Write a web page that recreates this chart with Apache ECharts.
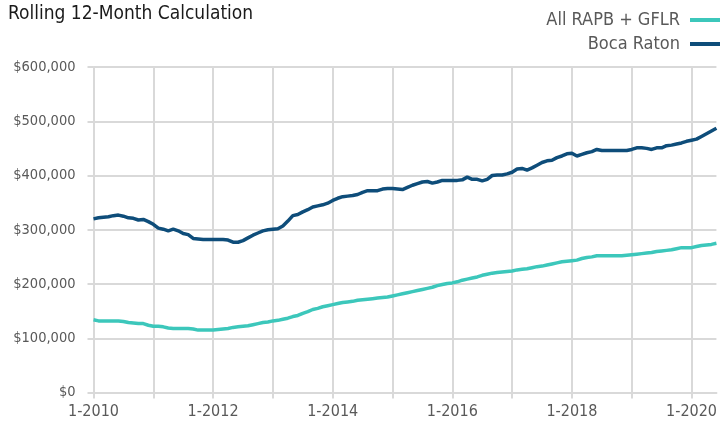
<!DOCTYPE html>
<html>
<head>
<meta charset="utf-8">
<script src="https://cdn.jsdelivr.net/npm/echarts@6/dist/echarts.min.js"></script>
<style>
html,body{margin:0;padding:0;background:#fff;}
#c{width:720px;height:427px;}
</style>
</head>
<body>
<div id="c"></div>
<script>
// Monthly values (in $ thousands), Jan 2010 .. Jun 2020
const startYear = 2010;
const bocaRaton = [
320,322,323,324,326,327,325,322,321,318,319,315,
310,303,301,298,301,298,293,291,284,283,282,282,
282,282,282,281,277,277,280,285,290,294,298,300,
301,302,307,316,326,328,333,337,342,344,346,349,
354,358,361,362,363,365,369,372,372,372,375,376,
376,375,374,378,382,385,388,389,386,388,391,391,
391,391,392,397,393,393,390,393,400,401,401,403,
406,412,413,410,414,419,424,427,428,433,436,440,
441,436,439,442,444,448,446,446,446,446,446,446,
448,451,451,450,448,451,451,455,456,458,460,463,
465,467,472,477,482,487
];
const allRapbGflr = [
134,132,132,132,132,132,131,129,128,127,127,124,
122,122,121,119,118,118,118,118,117,115,115,115,
115,116,117,118,120,121,122,123,125,127,129,130,
132,133,135,137,140,142,146,149,153,155,158,160,
162,164,166,167,168,170,171,172,173,174,175,176,
178,180,182,184,186,188,190,192,194,197,199,201,
202,204,207,209,211,213,216,218,220,221,222,223,
224,226,227,228,230,232,233,235,237,239,241,242,
243,244,247,249,250,252,252,252,252,252,252,253,
254,255,256,257,258,260,261,262,263,265,267,267,
267,269,271,272,273,275
];
const yTicks = [0,100000,200000,300000,400000,500000,600000];

const categories = bocaRaton.map((_, i) => {
  const m = (i % 12) + 1;
  const y = startYear + Math.floor(i / 12);
  return m + '-' + y;
});

const FONT = '"DejaVu Sans Condensed","Liberation Sans Narrow",sans-serif';
const GRID = '#d9d9d9';

const chart = echarts.init(document.getElementById('c'), null, {renderer: 'canvas'});
chart.setOption({
  animation: false,
  backgroundColor: '#fff',
  title: {
    text: 'Rolling 12-Month Calculation',
    left: 3, top: 0,
    textStyle: {fontFamily: FONT, fontSize: 19, fontWeight: 'normal', color: '#1a1a1a'}
  },
  legend: {
    orient: 'vertical',
    right: 0, top: 10,
    padding: 0,
    align: 'right',
    itemWidth: 30, itemHeight: 4,
    itemGap: 4,
    icon: 'rect',
    textStyle: {fontFamily: FONT, fontSize: 18, color: '#595959', lineHeight: 20, padding: [0, 5, 0, 0]},
    data: ['All RAPB + GFLR', 'Boca Raton']
  },
  grid: {left: 93.5, right: 1.7, top: 67, bottom: 34.5, containLabel: false},
  xAxis: {
    type: 'category',
    data: categories,
    boundaryGap: false,
    axisLine: {show: true, lineStyle: {color: GRID, width: 2}},
    axisTick: {show: true, length: 6, interval: (i) => i % 12 === 0, lineStyle: {color: GRID, width: 2}},
    splitLine: {show: true, interval: (i) => i % 12 === 0, lineStyle: {color: GRID, width: 2}},
    axisLabel: {
      interval: (i) => i % 24 === 0,
      margin: 11,
      fontFamily: FONT, fontSize: 16, color: '#595959'
    }
  },
  yAxis: {
    type: 'value',
    min: yTicks[0], max: yTicks[yTicks.length - 1], interval: 100000,
    axisLine: {show: true, lineStyle: {color: GRID, width: 2}},
    axisTick: {show: true, length: 6, lineStyle: {color: GRID, width: 2}},
    splitLine: {show: true, lineStyle: {color: GRID, width: 2}},
    axisLabel: {
      margin: 18,
      fontFamily: FONT, fontSize: 14.5, color: '#595959',
      formatter: (v) => '$' + v.toLocaleString('en-US')
    }
  },
  series: [
    {
      name: 'All RAPB + GFLR', type: 'line',
      data: allRapbGflr.map(v => v * 1000),
      showSymbol: false, smooth: false,
      itemStyle: {color: '#3cc7bb'},
      lineStyle: {color: '#3cc7bb', width: 3.5}
    },
    {
      name: 'Boca Raton', type: 'line',
      data: bocaRaton.map(v => v * 1000),
      showSymbol: false, smooth: false,
      itemStyle: {color: '#0e4d7a'},
      lineStyle: {color: '#0e4d7a', width: 3.5}
    }
  ]
});
</script>
</body>
</html>
